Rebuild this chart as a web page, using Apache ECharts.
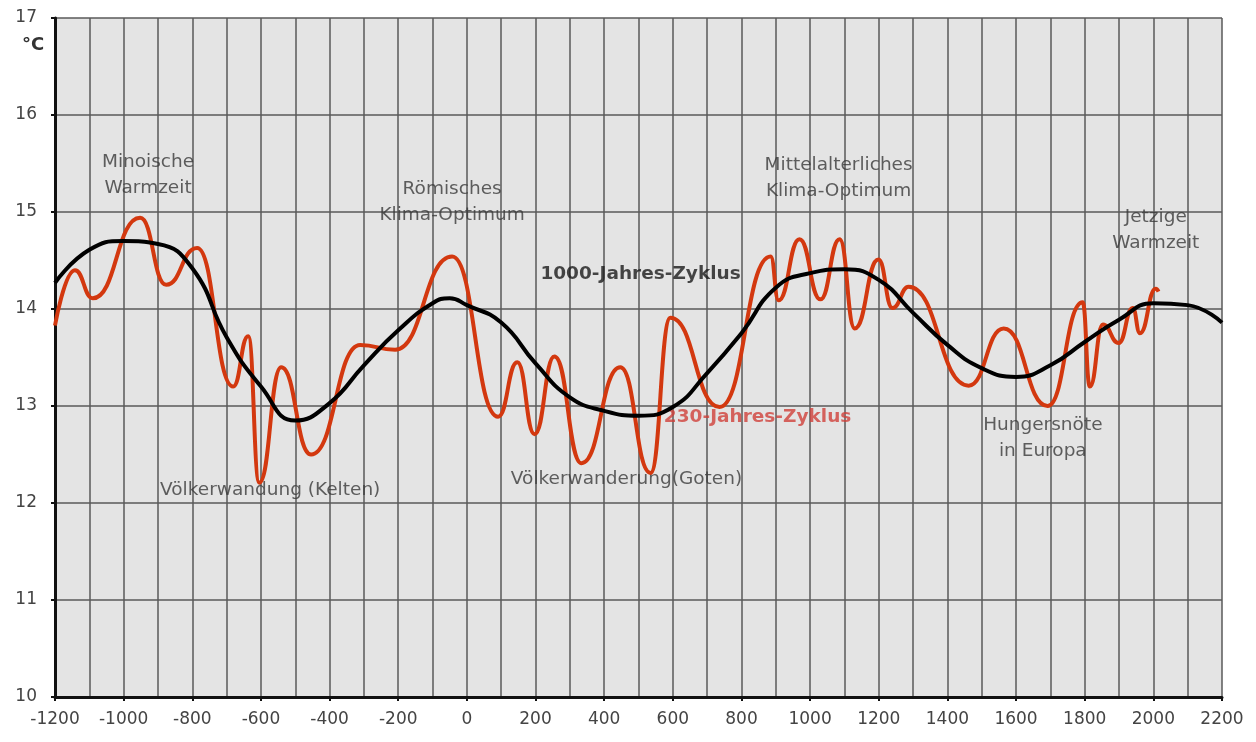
<!DOCTYPE html>
<html>
<head>
<meta charset="utf-8">
<script src="https://cdn.jsdelivr.net/npm/echarts@6/dist/echarts.min.js"></script>
<style>
  html, body { margin: 0; padding: 0; background: #fff; }
  #chart { width: 1256px; height: 742px; }
</style>
</head>
<body>
<div id="chart"></div>
<script>
// 230-Jahres-Zyklus (red)
const redYears = [-1200, -1142, -1090, -952, -876, -786, -681, -637, -605, -541, -454, -311, -209, -43, 91, 147, 197, 255, 334, 447, 535, 593, 736, 885, 908, 969, 1030, 1086, 1130, 1199, 1240, 1287, 1462, 1564, 1692, 1794, 1815, 1853, 1899, 1940, 1961, 2007, 2015];
const redTemps = [13.83, 14.40, 14.11, 14.94, 14.25, 14.63, 13.20, 13.72, 12.21, 13.40, 12.50, 13.63, 13.58, 14.54, 12.89, 13.45, 12.71, 13.51, 12.41, 13.40, 12.31, 13.91, 12.99, 14.54, 14.09, 14.72, 14.10, 14.72, 13.80, 14.51, 14.01, 14.23, 13.21, 13.80, 13.00, 14.07, 13.20, 13.84, 13.65, 14.01, 13.75, 14.21, 14.18];

// 1000-Jahres-Zyklus (black), read every 100 years
const blackYears = [-1200, -1100, -1000, -900, -800, -700, -600, -500, -400, -300, -200, -100, -50, 0, 100, 200, 300, 400, 500, 600, 700, 800, 900, 1000, 1100, 1200, 1300, 1400, 1500, 1600, 1700, 1800, 1900, 2000, 2100, 2200];
const blackTemps = [14.27, 14.61, 14.70, 14.67, 14.42, 13.71, 13.20, 12.85, 13.03, 13.42, 13.78, 14.06, 14.11, 14.04, 13.86, 13.44, 13.09, 12.95, 12.90, 12.99, 13.34, 13.75, 14.22, 14.37, 14.41, 14.30, 13.96, 13.63, 13.39, 13.30, 13.42, 13.66, 13.89, 14.06, 14.04, 13.86];

// annotations: text, year, temp
const noteTexts = ["Minoische\nWarmzeit", "Römisches\nKlima-Optimum", "Mittelalterliches\nKlima-Optimum", "Jetzige\nWarmzeit", "Völkerwandung (Kelten)", "Völkerwanderung(Goten)", "Hungersnöte\nin Europa"];
const noteYears = [-929, -43, 1083, 2007, -573, 465, 1678];
const noteTemps = [15.38, 15.10, 15.35, 14.81, 12.13, 12.25, 12.67];

const cycleTexts = ["1000-Jahres-Zyklus", "230-Jahres-Zyklus"];
const cycleYears = [506, 847];
const cycleTemps = [14.36, 12.88];
const cycleColors = ["#1a1a1a", "#d0403a"];

const font = "DejaVu Sans";
const gridLine = { color: "#5a5a5a", width: 1.5 };

const chart = echarts.init(document.getElementById("chart"));
chart.setOption({
  animation: false,
  grid: {
    left: 55, right: 34, top: 18, bottom: 45,
    show: true, backgroundColor: "#e4e4e4", borderWidth: 0
  },
  xAxis: {
    type: "value", min: -1200, max: 2200, interval: 200,
    axisLine: { show: true, onZero: false, lineStyle: { color: "#111", width: 3 } },
    axisTick: { show: true, length: 4, lineStyle: { color: "#111", width: 2 } },
    axisLabel: { color: "#444", fontSize: 17, fontFamily: font, margin: 14, formatter: v => String(v) },
    splitLine: { show: true, lineStyle: gridLine },
    minorTick: { show: false, splitNumber: 2 },
    minorSplitLine: { show: true, lineStyle: gridLine }
  },
  yAxis: {
    type: "value", min: 10, max: 17, interval: 1,
    axisLine: { show: true, onZero: false, lineStyle: { color: "#111", width: 3 } },
    axisTick: { show: true, length: 4, lineStyle: { color: "#111", width: 2 } },
    axisLabel: { color: "#444", fontSize: 17, fontFamily: font, margin: 18 },
    splitLine: { show: true, lineStyle: gridLine }
  },
  graphic: [
    { type: "text", left: 22, top: 36, style: { text: "°C", font: "bold 18px DejaVu Sans", fill: "#333" } }
  ],
  series: [
    {
      name: "230-Jahres-Zyklus", type: "line", smooth: 0.5, smoothMonotone: "x", symbol: "none",
      data: redYears.map((y, i) => [y, redTemps[i]]),
      lineStyle: { color: "#d3380f", width: 4 }
    },
    {
      name: "1000-Jahres-Zyklus", type: "line", smooth: true, symbol: "none",
      data: blackYears.map((y, i) => [y, blackTemps[i]]),
      lineStyle: { color: "#000", width: 4 }
    },
    {
      type: "scatter", symbolSize: 0, silent: true,
      data: noteTexts.map((t, i) => ({ value: [noteYears[i], noteTemps[i]], name: t })),
      label: {
        show: true, position: "inside", formatter: p => p.name,
        color: "#3a3a3a", fontSize: 18.5, fontFamily: font, lineHeight: 26, align: "center"
      }
    },
    {
      type: "scatter", symbolSize: 0, silent: true,
      data: cycleTexts.map((t, i) => ({
        value: [cycleYears[i], cycleTemps[i]], name: t,
        label: { color: cycleColors[i] }
      })),
      label: {
        show: true, position: "inside", formatter: p => p.name,
        fontSize: 18.5, fontFamily: font, fontWeight: "bold"
      }
    }
  ]
});
</script>
</body>
</html>
